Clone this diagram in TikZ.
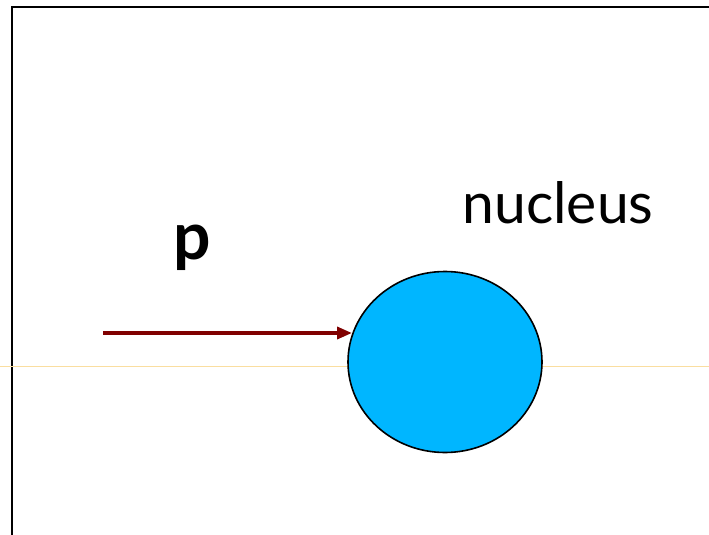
\documentclass[tikz,border=0pt]{standalone}
\usepackage{fontspec}
\setmainfont{Lato}
\usetikzlibrary{shapes.geometric, arrows.meta, positioning}
\definecolor{nucleusblue}{RGB}{0, 182, 255}
\definecolor{beamred}{RGB}{128, 0, 0}
\definecolor{guidegold}{RGB}{250, 222, 160}

\begin{document}
\begin{tikzpicture}[x=1pt, y=-1pt,
    frame/.style={black, line width=2.8pt},
    guide/.style={guidegold, line width=1pt},
    beam/.style={-{Triangle[length=15pt, width=12pt]}, beamred, line width=3.5pt},
    blob/.style={ellipse, draw=black, line width=1.6pt, fill=nucleusblue,
                 minimum width=194pt, minimum height=181pt, inner sep=0pt}]

\useasboundingbox (0,0) rectangle (709,535);

% frame
\draw[frame] (12,535) -- (12,7) -- (709,7);

% faint guide line
\draw[guide] (0,366) -- (709,366);

% nucleus
\node[blob] (nucleus) at (445,362) {};
\node[font=\fontsize{57}{57}\selectfont, anchor=base] (nuclabel) at (558,223) {nucleus};

% incoming particle
\node[font=\bfseries\fontsize{66}{66}\selectfont, anchor=base] (plabel) at (192,259) {p};
\coordinate (pstart) at (103,333);
\coordinate (ptip) at (352,333);
\draw[beam] (pstart) -- (ptip);

\end{tikzpicture}
\end{document}
